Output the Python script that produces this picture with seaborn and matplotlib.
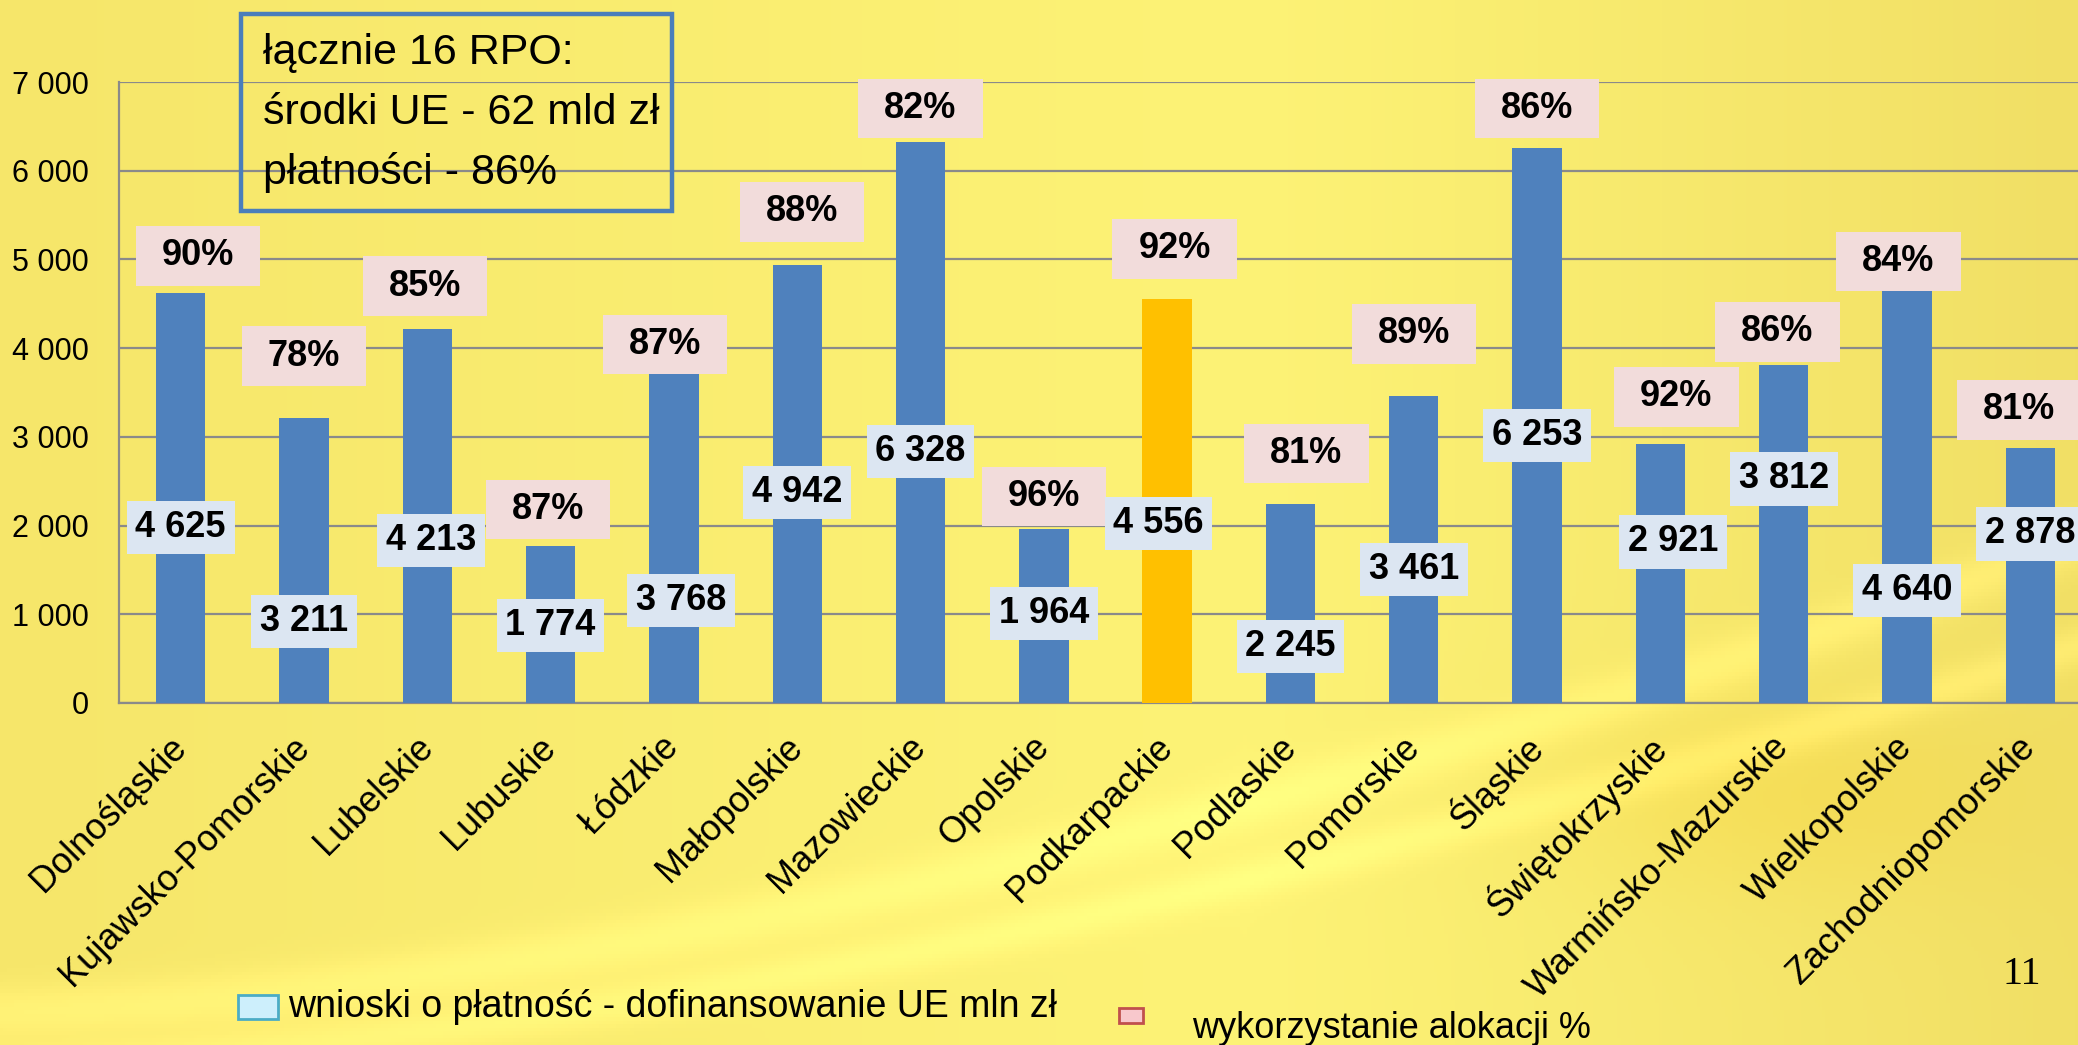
import numpy as np
import pandas as pd
import matplotlib
matplotlib.use("Agg")
import matplotlib.pyplot as plt
import seaborn as sns
from matplotlib.path import Path
from matplotlib.patches import Rectangle
from matplotlib.ticker import FuncFormatter

# ---------------- data ----------------
regions = ["Dolnośląskie", "Kujawsko-Pomorskie", "Lubelskie", "Lubuskie", "Łódzkie",
           "Małopolskie", "Mazowieckie", "Opolskie", "Podkarpackie", "Podlaskie",
           "Pomorskie", "Śląskie", "Świętokrzyskie", "Warmińsko-Mazurskie",
           "Wielkopolskie", "Zachodniopomorskie"]
payments = [4625, 3211, 4213, 1774, 3768, 4942, 6328, 1964, 4556, 2245,
            3461, 6253, 2921, 3812, 4640, 2878]
allocation_pct = [90, 78, 85, 87, 87, 88, 82, 96, 92, 81, 89, 86, 92, 86, 84, 81]
highlight = "Podkarpackie"
y_ticks = [0, 1000, 2000, 3000, 4000, 5000, 6000, 7000]
box_lines = ["łącznie 16 RPO:", "środki UE - 62 mld zł", "płatności - 86%"]
legend_labels = ["wnioski o płatność - dofinansowanie UE mln zł", "wykorzystanie alokacji %"]
page_number = "11"

# annotation placement (data units / category offsets)
value_label_y = [1980, 920, 1830, 875, 1160, 2375, 2830, 1005, 2025, 635,
                 1500, 3020, 1815, 2525, 1263, 1905]
value_label_dx = [0, 0, 0.03, 0, 0.06, 0, 0, 0, -0.07, 0, 0, 0, 0.1, 0, 0, 0]
pct_label_y = [5040, 3910, 4700, 2180, 4040, 5535, 6700, 2330, 5120, 2810,
               4160, 6700, 3450, 4183, 4975, 3303]
pct_label_dx = [0.14, 0, -0.02, -0.02, -0.07, 0.04, 0, 0, 0.06, 0.13,
                0, 0, 0.13, -0.05, -0.07, -0.09]

# ---------------- style ----------------
sns.set_style("white")
plt.rcParams["font.family"] = ["Liberation Sans", "DejaVu Sans"]
plt.rcParams["text.color"] = "black"
plt.rcParams["xtick.color"] = "black"
plt.rcParams["ytick.color"] = "black"

W, H = 2078, 1045
fig = plt.figure(figsize=(W / 100, H / 100), dpi=100)

# background gradient
bg = fig.add_axes([0, 0, 1, 1], zorder=-10)
yy, xx = np.mgrid[0:1:300j, 0:1:600j]
c_left = np.array([246, 230, 106]) / 255
c_mid = np.array([253, 243, 118]) / 255
c_right = np.array([241, 223, 101]) / 255
t1 = np.clip(xx / 0.6, 0, 1)[..., None]
t2 = np.clip((xx - 0.6) / 0.4, 0, 1)[..., None]
img = np.where(xx[..., None] < 0.6, c_left * (1 - t1) + c_mid * t1, c_mid * (1 - t2) + c_right * t2)
# faint light swooshes across the lower part
for base, amp, w in [(0.97, 0.45, 0.025), (1.02, 0.40, 0.02)]:
    d = yy - (base - amp * xx ** 1.6)
    img = img + (0.05 * np.exp(-(d / w) ** 2))[..., None]
# warm glow bottom right
glow = np.exp(-(((xx - 0.86) / 0.12) ** 2 + ((yy - 0.76) / 0.1) ** 2))
img = img - (glow * 0.05)[..., None] * np.array([0, 0.6, 1.4])
bg.imshow(np.clip(img, 0, 1), aspect="auto", extent=[0, 1, 0, 1], origin="upper")
bg.set_axis_off()

# ---------------- main chart ----------------
ax = fig.add_axes([119 / W, 1 - 703 / H, 1973 / W, (703 - 82) / H])
ax.set_facecolor("none")

df = pd.DataFrame({"region": regions, "value": payments})
palette = {r: ("#FFC000" if r == highlight else "#4F81BD") for r in regions}
sns.barplot(data=df, x="region", y="value", hue="region", palette=palette,
            width=0.4, saturation=1, legend=False, ax=ax, zorder=3,
            linewidth=0, edgecolor="none")

ax.set_xlim(-0.5, len(regions) - 0.5)
ax.set_ylim(0, 7000)
ax.set_yticks(y_ticks)
ax.yaxis.set_major_formatter(FuncFormatter(lambda v, p: f"{int(v):,}".replace(",", " ")))
ax.set_axisbelow(True)
ax.grid(axis="y", color="#8A8A8A", lw=1.6)
ax.grid(axis="x", visible=False)
for s in ["top", "right"]:
    ax.spines[s].set_visible(False)
for s in ["left", "bottom"]:
    ax.spines[s].set_color("#8A8A8A")
    ax.spines[s].set_linewidth(1.6)

ax.tick_params(axis="y", length=9, width=1.6, color="#8A8A8A", labelsize=22,
               pad=13, labelcolor="black")
ax.set_xticks(range(len(regions)))
ax.set_xticklabels(regions, rotation=45, ha="right", va="center",
                   rotation_mode="anchor", fontsize=26, color="black")
ax.tick_params(axis="x", which="major", length=0, pad=28)
ax.set_xticks(np.arange(-0.5, len(regions), 1), minor=True)
ax.tick_params(axis="x", which="minor", length=10, width=1.6, color="#8A8A8A")
ax.set_xlabel("")
ax.set_ylabel("")


def padded_box(hpad, vpad):
    def style(x0, y0, width, height, mutation_size):
        px = hpad * mutation_size
        py = vpad * mutation_size
        verts = [(x0 - px, y0 - py), (x0 + width + px, y0 - py),
                 (x0 + width + px, y0 + height + py), (x0 - px, y0 + height + py),
                 (x0 - px, y0 - py)]
        return Path(verts, closed=True)
    return style


for i, (v, p) in enumerate(zip(payments, allocation_pct)):
    ax.text(i + value_label_dx[i], value_label_y[i], f"{v:,}".replace(",", " "),
            ha="center", va="center", fontsize=26, fontweight="bold", zorder=6,
            color="black",
            bbox=dict(boxstyle=padded_box(0.24, 0.25), fc="#DCE6F2", ec="none"))
    ax.text(i + pct_label_dx[i], pct_label_y[i], f"{p}%",
            ha="center", va="center", fontsize=26, fontweight="bold", zorder=6,
            color="black",
            bbox=dict(boxstyle=padded_box(0.72, 0.34), fc="#F2DCDB", ec="none"))

# ---------------- summary box ----------------
fig.patches.append(Rectangle((241 / W, 1 - 211 / H), 431 / W, 197 / H,
                             transform=fig.transFigure, fill=False,
                             ec="#4A7EBB", lw=3.2, zorder=10))
for k, line in enumerate(box_lines):
    fig.text(263 / W, 1 - (64 + 60 * k) / H, line, fontsize=31, va="baseline",
             ha="left", zorder=11, color="black")

# ---------------- legend ----------------
fig.patches.append(Rectangle((238 / W, 1 - 1019 / H), 40 / W, 24 / H,
                             transform=fig.transFigure, fc="#CDEFFC",
                             ec="#4BACC6", lw=2, zorder=10))
fig.text(288 / W, 1 - 1017 / H, legend_labels[0], fontsize=27, va="baseline",
         ha="left", color="black")
fig.patches.append(Rectangle((1119 / W, 1 - 1023 / H), 24 / W, 15 / H,
                             transform=fig.transFigure, fc="#F8C8CC",
                             ec="#C0504D", lw=2, zorder=10))
fig.text(1192 / W, 1 - 1038 / H, legend_labels[1], fontsize=26, va="baseline",
         ha="left", color="black")

fig.text(2002 / W, 1 - 984 / H, page_number, family=["Liberation Serif", "DejaVu Serif"],
         fontsize=29, va="baseline", ha="left", color="black")

fig.savefig("out.png", dpi=100)
